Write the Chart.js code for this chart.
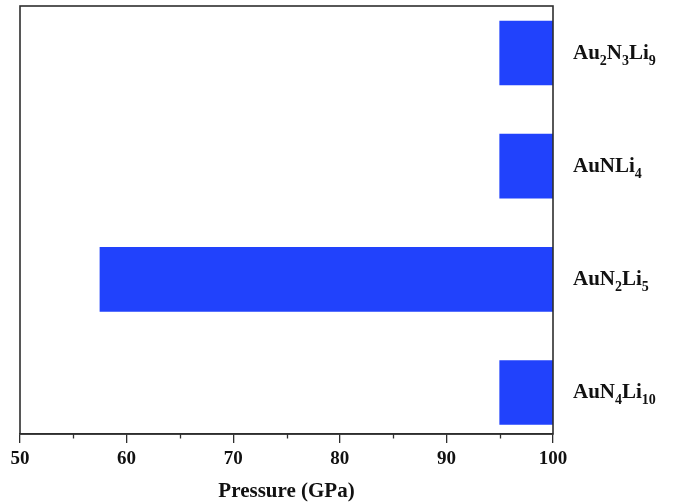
<!DOCTYPE html>
<html>
<head>
<meta charset="utf-8">
<style>
html,body{margin:0;padding:0;background:#fff;}
#wrap{width:677px;height:502px;position:relative;}
</style>
<script src="https://cdn.jsdelivr.net/npm/chart.js@4.4.1/dist/chart.umd.min.js"></script>
</head>
<body>
<div id="wrap"><canvas id="c" width="677" height="502"></canvas></div>
<script>
// ---- data ----
const compounds = ['AuN4Li10', 'AuN2Li5', 'AuNLi4', 'Au2N3Li9'];
const positions = [1, 2, 3, 4];
const startPressure = [95, 57.5, 95, 95];
const endPressure = [100, 100, 100, 100];
const xTicks = [50, 60, 70, 80, 90, 100];
const xMinorTicks = [55, 65, 75, 85, 95];
const xTitle = 'Pressure (GPa)';

const AXIS_COLOR = '#2e2e2e';
const SERIF = "'Liberation Serif','Times New Roman',serif";

function drawFormula(ctx, text, x, y, mainSize, subSize, subShift) {
  // chemical formula, digits drawn as subscripts
  const parts = text.match(/[A-Za-z]+|\d+/g);
  let cx = x;
  for (const p of parts) {
    const isSub = /^\d+$/.test(p);
    ctx.font = 'bold ' + (isSub ? subSize : mainSize) + 'px ' + SERIF;
    ctx.fillText(p, cx, isSub ? y + subShift : y);
    cx += ctx.measureText(p).width;
  }
}

const customPlugin = {
  id: 'custom',
  afterDraw(chart) {
    const ctx = chart.ctx;
    const a = chart.chartArea;
    const xs = chart.scales.x;
    const ys = chart.scales.y;
    ctx.save();
    // frame
    ctx.strokeStyle = AXIS_COLOR;
    ctx.lineWidth = 1.6;
    ctx.strokeRect(a.left, a.top, a.right - a.left, a.bottom - a.top);
    // minor ticks
    ctx.lineWidth = 1.3;
    ctx.beginPath();
    for (const v of xMinorTicks) {
      const px = Math.round(xs.getPixelForValue(v)) + 0.5;
      ctx.moveTo(px, a.bottom);
      ctx.lineTo(px, a.bottom + 4.5);
    }
    ctx.stroke();
    // category labels on the right
    ctx.fillStyle = '#111';
    ctx.textBaseline = 'alphabetic';
    ctx.textAlign = 'left';
    compounds.forEach((c, i) => {
      const py = ys.getPixelForValue(positions[i]);
      drawFormula(ctx, c, a.right + 20, py + 6, 21, 14, 6);
    });
    // x title
    ctx.font = 'bold 21px ' + SERIF;
    ctx.textAlign = 'center';
    ctx.textBaseline = 'alphabetic';
    ctx.fillText(xTitle, (a.left + a.right) / 2, 497);
    ctx.restore();
  }
};

new Chart(document.getElementById('c'), {
  type: 'bar',
  data: {
    datasets: [{
      data: compounds.map((c, i) => ({ x: [startPressure[i], endPressure[i]], y: positions[i] })),
      backgroundColor: '#2142fc',
      borderWidth: 0,
      barThickness: 64
    }]
  },
  options: {
    indexAxis: 'y',
    responsive: false,
    animation: false,
    devicePixelRatio: 1,
    layout: { padding: { top: 6, left: 20, right: 124, bottom: 0 } },
    plugins: { legend: { display: false }, tooltip: { enabled: false } },
    scales: {
      x: {
        type: 'linear',
        min: 50, max: 100,
        afterBuildTicks: (s) => { s.ticks = xTicks.map(v => ({ value: v })); },
        afterFit: (s) => { s.height = 68; },
        ticks: {
          color: '#111',
          font: { family: SERIF, size: 19, weight: 'bold' },
          padding: 5,
          maxRotation: 0
        },
        grid: { drawOnChartArea: false, drawTicks: true, tickLength: 9, color: AXIS_COLOR, lineWidth: 1.3 },
        border: { display: true, color: AXIS_COLOR, width: 1.6 }
      },
      y: {
        type: 'linear',
        offset: false,
        min: 0.633, max: 4.415,
        display: false
      }
    }
  },
  plugins: [customPlugin]
});
</script>
</body>
</html>
